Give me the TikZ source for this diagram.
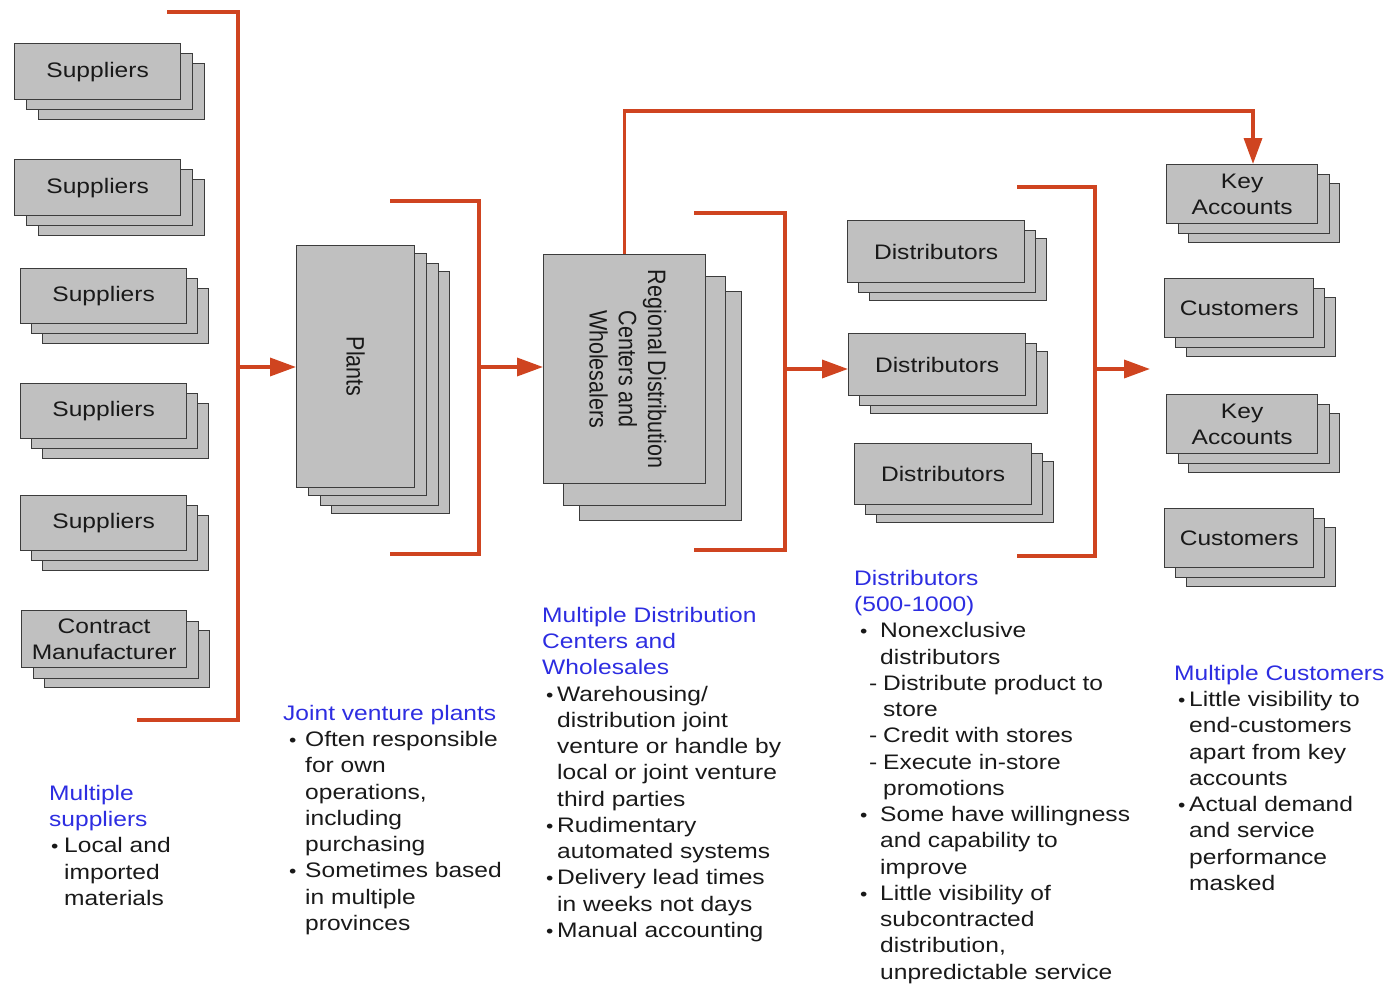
\documentclass[tikz,border=0pt]{standalone}
\usepackage{fontspec}
\setmainfont[FakeStretch=1.17]{Liberation Sans}
\newfontfamily\rotfont{Liberation Sans}
\usetikzlibrary{arrows.meta}

\definecolor{flow}{RGB}{207,68,32}
\definecolor{cardfill}{RGB}{192,192,192}
\definecolor{cardline}{RGB}{60,60,60}
\definecolor{ink}{RGB}{25,25,25}
\definecolor{hd}{RGB}{45,45,225}

\tikzset{
  card/.style={draw=cardline, line width=1.3pt, fill=cardfill, anchor=north west,
    inner sep=0pt, align=center, text=ink, font=\fontsize{21}{26}\selectfont},
  flowline/.style={draw=flow, line width=3.5pt},
  flowarrow/.style={flowline, -{Triangle[length=26pt,width=18pt]}},
  notes/.style={anchor=north west, inner sep=0pt, align=left, text=ink,
    font=\fontsize{21}{26.25}\selectfont},
  rotlabel/.style={rotate=-90, inner sep=0pt, text=ink,
    font=\rotfont\fontsize{21.5}{25}\selectfont},
}

% a stack of cards: name, x, y (front top-left), width, height, back offsets, label
\newcommand{\cardstack}[7]{%
  \foreach \dx/\dy [count=\k] in {#6}{
    \node[card, minimum width=#4, minimum height=#5] (#1-\k) at (#2+\dx,#3+\dy) {};
  }
  \node[card, minimum width=#4, minimum height=#5] (#1) at (#2,#3) {#7};
}
% bullet and indentation helpers for the note columns
\newcommand{\bu}[2]{\hspace*{#1pt}\makebox[#2pt][l]{\scalebox{0.85}{•}}}
\newcommand{\da}[2]{\hspace*{#1pt}\makebox[#2pt][l]{-}}
\newcommand{\ind}[1]{\hspace*{#1pt}}

\begin{document}
\begin{tikzpicture}[x=1pt,y=-1pt]
\useasboundingbox (0,0) rectangle (1390,985);

% suppliers column
\cardstack{sup1}{14}{43}{166}{56}{24/20,12/10}{Suppliers}
\cardstack{sup2}{14}{159}{166}{56}{24/20,12/10}{Suppliers}
\cardstack{sup3}{20}{268}{166}{55}{22/20,11/10}{Suppliers}
\cardstack{sup4}{20}{383}{166}{55}{22/20,11/10}{Suppliers}
\cardstack{sup5}{20}{495}{166}{55}{22/20,11/10}{Suppliers}
\cardstack{cman}{21}{610}{165}{57}{23/20,12/11}{Contract\\Manufacturer}

% plants
\cardstack{plants}{296}{245}{118}{242}{35/26,24/18,12/8}{}
\node[rotlabel] (plants-label) at (plants.center) {\scalebox{1}[1.17]{Plants}};

% regional distribution centers
\cardstack{reg}{543}{254}{162}{229}{36/37,20/22}{}
\node[rotlabel] (reg-label) at (reg.center)
  {\scalebox{1}[1.17]{\begin{tabular}{@{}c@{}}Regional Distribution\\Centers and\\Wholesalers\end{tabular}}};

% distributors
\cardstack{dist1}{847}{220}{177}{62}{22/18,11/10}{Distributors}
\cardstack{dist2}{848}{333}{177}{62}{22/18,11/10}{Distributors}
\cardstack{dist3}{854}{443}{177}{61}{22/18,11/10}{Distributors}

% customers
\cardstack{key1}{1166}{164}{151}{59}{22/19,12/10}{Key\\Accounts}
\cardstack{cust1}{1164}{278}{149}{59}{22/19,11/10}{Customers}
\cardstack{key2}{1166}{394}{151}{59}{22/19,12/10}{Key\\Accounts}
\cardstack{cust2}{1164}{508}{149}{59}{22/19,11/10}{Customers}

% brackets and flow arrows
\draw[flowline] (167,12) -| (238,720) -- (137,720);
\coordinate (supOut) at (238,367);
\draw[flowarrow] (supOut) -- (supOut -| plants.west);

\draw[flowline] (390,201) -| (479,554) -- (390,554);
\coordinate (plantOut) at (479,367);
\draw[flowarrow] (plantOut) -- (plantOut -| reg.west);

\draw[flowline] (694,213) -| (785,550) -- (694,550);
\coordinate (regOut) at (785,369);
\draw[flowarrow] (regOut) -- (regOut -| dist2.west);

\draw[flowline] (1017,187) -| (1095,556) -- (1017,556);
\coordinate (distOut) at (1095,369);
\coordinate (custIn) at (1150,369);
\draw[flowarrow] (distOut) -- (custIn);

\coordinate (keyTurn) at (1253,111);
\draw[flowarrow] (reg.north) |- (keyTurn) -- (keyTurn |- key1.north);

% note columns
\node[notes] (note1) at (49,785) {%
  \textcolor{hd}{Multiple}\\
  \textcolor{hd}{suppliers}\\
  \bu{2}{13}Local and\\
  \ind{15}imported\\
  \ind{15}materials};

\node[notes] (note2) at (283,705) {%
  \textcolor{hd}{Joint venture plants}\\
  \bu{6}{16}Often responsible\\
  \ind{22}for own\\
  \ind{22}operations,\\
  \ind{22}including\\
  \ind{22}purchasing\\
  \bu{6}{16}Sometimes based\\
  \ind{22}in multiple\\
  \ind{22}provinces};

\node[notes] (note3) at (542,607) {%
  \textcolor{hd}{Multiple Distribution}\\
  \textcolor{hd}{Centers and}\\
  \textcolor{hd}{Wholesales}\\
  \bu{4}{11}Warehousing/\\
  \ind{15}distribution joint\\
  \ind{15}venture or handle by\\
  \ind{15}local or joint venture\\
  \ind{15}third parties\\
  \bu{4}{11}Rudimentary\\
  \ind{15}automated systems\\
  \bu{4}{11}Delivery lead times\\
  \ind{15}in weeks not days\\
  \bu{4}{11}Manual accounting};

\node[notes] (note4) at (854,570) {%
  \textcolor{hd}{Distributors}\\
  \textcolor{hd}{(500-1000)}\\
  \bu{6}{20}Nonexclusive\\
  \ind{26}distributors\\
  \da{15}{14}Distribute product to\\
  \ind{29}store\\
  \da{15}{14}Credit with stores\\
  \da{15}{14}Execute in-store\\
  \ind{29}promotions\\
  \bu{6}{20}Some have willingness\\
  \ind{26}and capability to\\
  \ind{26}improve\\
  \bu{6}{20}Little visibility of\\
  \ind{26}subcontracted\\
  \ind{26}distribution,\\
  \ind{26}unpredictable service};

\node[notes] (note5) at (1174,665) {%
  \textcolor{hd}{Multiple Customers}\\
  \bu{4}{11}Little visibility to\\
  \ind{15}end-customers\\
  \ind{15}apart from key\\
  \ind{15}accounts\\
  \bu{4}{11}Actual demand\\
  \ind{15}and service\\
  \ind{15}performance\\
  \ind{15}masked};
\end{tikzpicture}
\end{document}
